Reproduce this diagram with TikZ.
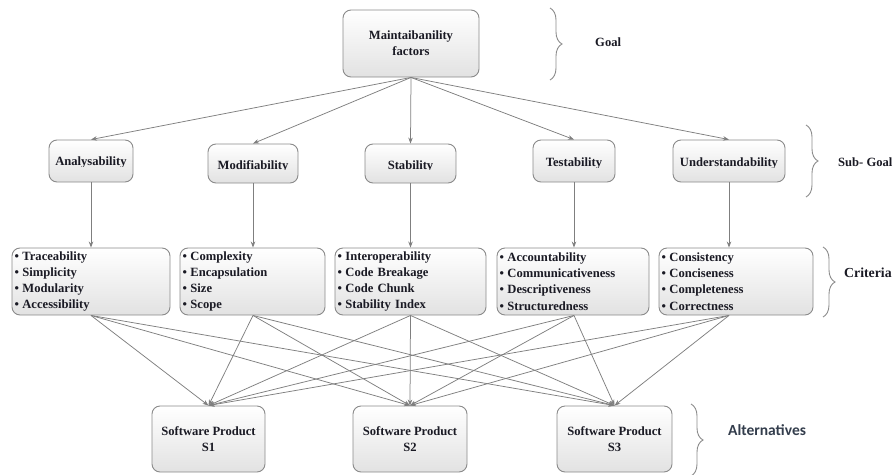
\documentclass[tikz,border=0pt]{standalone}
\usepackage{fontspec}
\setmainfont{Liberation Serif}
\newfontfamily\altfont{Carlito}
\usetikzlibrary{arrows.meta,decorations.pathreplacing}
\definecolor{boxborder}{HTML}{8A8A8A}
\definecolor{boxfill}{HTML}{E2E2E2}
\definecolor{linegray}{HTML}{7F7F7F}
\definecolor{bracegray}{HTML}{8C8C8C}
\definecolor{txt}{HTML}{1A1A24}
\definecolor{alttxt}{HTML}{333D4C}
\newcommand\lblfont{\fontsize{12.6}{16.3}\selectfont\bfseries}
\newcommand\bul{\textbullet\hspace{3.5pt}}
\begin{document}
\begin{tikzpicture}[x=1pt,y=-1pt,
  box/.style={draw=boxborder,line width=0.9pt,rounded corners=8pt,top color=white,bottom color=boxfill,text=txt,font=\lblfont,align=center,inner sep=2pt},
  crit/.style={box,align=left,minimum height=67pt,inner xsep=2.5pt},
  lbl/.style={text=txt,font=\lblfont,inner sep=0pt,anchor=base},
  conn/.style={draw=linegray,line width=0.75pt,-{Stealth[length=6pt,width=4.5pt]}},
  brc/.style={draw=bracegray,line width=0.9pt,decorate,decoration={brace,amplitude=12pt}},
  sidelbl/.style={text=txt,font=\lblfont,anchor=west,inner sep=0pt}]
\useasboundingbox (0,0) rectangle (894,474);

% goal
\node[box,minimum width=136pt,minimum height=67pt] (top) at (411,43.5) {Maintaibanility\\factors};

% sub goals (boxes)
\node[box,minimum width=84pt,minimum height=42pt] (ana) at (91,161) {};
\node[box,minimum width=90pt,minimum height=39pt] (mod) at (253,163.5) {};
\node[box,minimum width=91pt,minimum height=39pt] (sta) at (410.5,163.5) {};
\node[box,minimum width=82pt,minimum height=42pt] (tes) at (574,161) {};
\node[box,minimum width=112pt,minimum height=42pt] (und) at (729,161) {};

% sub goal texts (descenders clipped as in the original)
\begin{scope}\clip (40,130) rectangle (145,166.3);
\node[lbl] (tana) at (91,165.8) {Analysability};\end{scope}
\begin{scope}\clip (200,130) rectangle (305,169.7);
\node[lbl] (tmod) at (253,169.2) {Modifiability};\end{scope}
\begin{scope}\clip (360,130) rectangle (460,169.9);
\node[lbl] (tsta) at (410.5,169.4) {Stability};\end{scope}
\begin{scope}\clip (530,130) rectangle (620,167);
\node[lbl] (ttes) at (574,166.5) {Testability};\end{scope}
\begin{scope}\clip (670,130) rectangle (790,167);
\node[lbl] (tund) at (729,166.5) {Understandability};\end{scope}

% criteria
\node[crit,minimum width=158pt,text width=153pt] (c1) at (91,281.5) {\bul Traceability\\\bul Simplicity\\\bul Modularity\\\bul Accessibility};
\node[crit,minimum width=145pt,text width=140pt] (c2) at (252.5,281.5) {\bul Complexity\\\bul Encapsulation\\\bul Size\\\bul Scope};
\node[crit,minimum width=151pt,text width=146pt] (c3) at (410.5,281.5) {\bul Interoperability\\\bul Code Breakage\\\bul Code Chunk\\\bul Stability Index};
\node[crit,minimum width=152pt,text width=147pt] (c4) at (573,281.5) {\bul Accountability\\\bul Communicativeness\\\bul Descriptiveness\\\bul Structuredness};
\node[crit,minimum width=154pt,text width=149pt] (c5) at (736,281.5) {\bul Consistency\\\bul Conciseness\\\bul Completeness\\\bul Correctness};

% alternatives
\node[box,minimum width=113pt,minimum height=66pt] (s1) at (208.5,439) {Software Product\\S1};
\node[box,minimum width=114pt,minimum height=66pt] (s2) at (410,439) {Software Product\\S2};
\node[box,minimum width=115pt,minimum height=66pt] (s3) at (614.5,439) {Software Product\\S3};

% goal -> sub goals
\foreach \n in {ana,mod,sta,tes,und} \draw[conn] (top.south) -- (\n.north);

% sub goals -> criteria
\coordinate (a1) at (c1.north -| ana.south);
\coordinate (a2) at (c2.north -| mod.south);
\coordinate (a3) at (c3.north -| sta.south);
\coordinate (a4) at (c4.north -| tes.south);
\coordinate (a5) at (c5.north -| und.south);
\draw[conn] (ana.south) -- (a1);
\draw[conn] (mod.south) -- (a2);
\draw[conn] (sta.south) -- (a3);
\draw[conn] (tes.south) -- (a4);
\draw[conn] (und.south) -- (a5);

% criteria -> alternatives
\coordinate (b1) at (c1.south -| ana.south);
\coordinate (b2) at (c2.south -| mod.south);
\coordinate (b3) at (c3.south -| sta.south);
\coordinate (b4) at (c4.south -| tes.south);
\coordinate (b5) at (c5.south -| und.south);
\foreach \b in {b1,b2,b3,b4,b5}
  \foreach \s in {s1,s2,s3}
    \draw[conn] (\b) -- (\s.north);

% braces and level labels
\coordinate (g1) at (550,8);   \coordinate (g2) at (550,80);
\coordinate (h1) at (806,125); \coordinate (h2) at (806,197);
\coordinate (k1) at (823,247); \coordinate (k2) at (823,317);
\coordinate (m1) at (691,404); \coordinate (m2) at (691,476);
\draw[brc] (g1) -- (g2);
\draw[brc] (h1) -- (h2);
\draw[brc] (k1) -- (k2);
\draw[brc] (m1) -- (m2);
\node[sidelbl] (lgoal) at (595,42) {Goal};
\node[sidelbl] (lsub) at (838,162) {Sub- Goal};
\node[sidelbl,font=\fontsize{13.8}{16}\selectfont\bfseries] (lcrit) at (844,273) {Criteria};
\node[sidelbl,text=alttxt,font=\altfont\fontsize{15.5}{18}\selectfont\bfseries] (lalt) at (728,430) {Alternatives};
\end{tikzpicture}
\end{document}
